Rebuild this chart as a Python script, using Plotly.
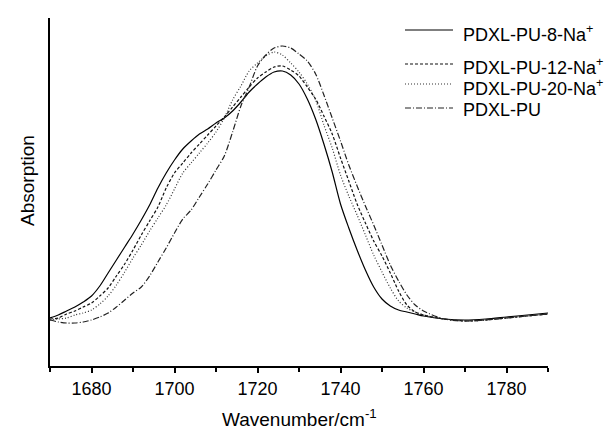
import plotly.graph_objects as go

# Wavenumber grid (cm^-1)
wavenumber = [1670, 1672, 1674, 1676, 1678, 1680, 1682, 1684, 1686, 1688,
              1690, 1692, 1694, 1696, 1698, 1700, 1702, 1704, 1706, 1708,
              1710, 1712, 1714, 1716, 1718, 1720, 1722, 1724, 1726, 1728,
              1730, 1732, 1734, 1736, 1738, 1740, 1742, 1744, 1746, 1748,
              1750, 1752, 1754, 1756, 1758, 1760, 1765, 1770, 1775, 1780,
              1785, 1790]

# Absorption (arbitrary units)
pu_8_na = [48, 51, 55, 59, 64, 70, 80, 93, 106, 119,
           132, 146, 161, 178, 193, 206, 217, 225, 232, 237,
           243, 248, 255, 264, 274, 282, 289, 294, 295, 291,
           282, 267, 247, 222, 194, 162, 138, 116, 96, 79,
           67, 60, 56, 54, 52, 50, 47, 46, 47, 49,
           51, 53]

pu_12_na = [47, 48, 52, 55, 59, 63, 70, 78, 90, 102,
            116, 131, 145, 159, 178, 193, 203, 213, 222, 231,
            240, 249, 259, 269, 279, 288, 294, 299, 300, 296,
            290, 279, 267, 250, 232, 208, 185, 162, 143, 125,
            110, 93, 75, 61, 54, 51, 47, 45, 46, 48,
            50, 52]

pu_20_na = [46, 47, 48, 51, 53, 56, 62, 70, 81, 94,
            108, 121, 135, 148, 161, 177, 193, 203, 213, 223,
            234, 248, 266, 280, 295, 303, 310, 314, 311, 303,
            294, 282, 266, 241, 218, 191, 170, 151, 131, 111,
            94, 78, 65, 58, 54, 51, 47, 45, 46, 48,
            50, 52]

pdxl_pu = [46, 44, 43, 43, 44, 46, 49, 53, 59, 66,
           73, 79, 90, 104, 118, 133, 147, 156, 169, 182,
           196, 210, 234, 260, 279, 300, 311, 318, 320, 318,
           312, 305, 292, 271, 248, 225, 201, 180, 160, 141,
           121, 101, 85, 71, 61, 55, 47, 45, 46, 48,
           50, 52]

series_names = ["PDXL-PU-8-Na<sup>+</sup>", "PDXL-PU-12-Na<sup>+</sup>",
                "PDXL-PU-20-Na<sup>+</sup>", "PDXL-PU"]
series_values = [pu_8_na, pu_12_na, pu_20_na, pdxl_pu]
series_dash = ["solid", "3px,2px", "1px,2px", "6px,2px,1px,2px"]
series_color = ["#000000", "#111111", "#333333", "#222222"]

x_ticks = [1680, 1700, 1720, 1740, 1760, 1780]

FONT = "Liberation Sans, Arial, Helvetica, sans-serif"

fig = go.Figure()
for name, vals, dash, col in zip(series_names, series_values, series_dash, series_color):
    fig.add_trace(go.Scatter(
        x=wavenumber, y=vals, mode="lines", name=name, showlegend=False,
        line=dict(color=col, width=1.2, dash=dash, shape="spline", smoothing=0.8),
    ))

W, H = 612, 430
L, R, T, B = 42, 72, 10, 72
pw, ph = W - L - R, H - T - B


def px2paper(px, py):
    return (px - L) / pw, (H - B - py) / ph


# Manual legend (uneven spacing as in the original)
legend_rows = [22, 56, 76, 100]
text_rows = [25, 58, 79, 102]
shapes = []
annotations = []
for name, dash, col, ly, ty in zip(series_names, series_dash, series_color, legend_rows, text_rows):
    x0, y0 = px2paper(397, ly)
    x1, _ = px2paper(445, ly)
    shapes.append(dict(type="line", xref="paper", yref="paper", x0=x0, x1=x1, y0=y0, y1=y0,
                       line=dict(color=col, width=1.2, dash=dash)))
    tx, tyy = px2paper(453, ty)
    annotations.append(dict(xref="paper", yref="paper", x=tx, y=tyy, xanchor="left", yanchor="middle",
                            text=name, showarrow=False, font=dict(size=18, color="black", family=FONT)))

# Axis titles
ax, ay = px2paper(20, 173)
annotations.append(dict(xref="paper", yref="paper", x=ax, y=ay, xanchor="center", yanchor="middle",
                        text="Absorption", textangle=-90, showarrow=False,
                        font=dict(size=19, color="black", family=FONT)))
bx, by = px2paper(291, 424)
annotations.append(dict(xref="paper", yref="paper", x=bx, y=by, xanchor="center", yanchor="bottom",
                        text="Wavenumber/cm<sup>-1</sup>", showarrow=False,
                        font=dict(size=19, color="black", family=FONT)))

fig.update_layout(
    width=W, height=H,
    margin=dict(l=L, r=R, t=T, b=B, pad=0),
    paper_bgcolor="white", plot_bgcolor="white",
    font=dict(family=FONT, color="black"),
    shapes=shapes, annotations=annotations,
    xaxis=dict(range=[1670, 1790], tickvals=x_ticks, ticks="outside", ticklen=5, tickwidth=1.5,
               tickcolor="black", showline=True, linecolor="black", linewidth=2,
               showgrid=False, zeroline=False, tickfont=dict(size=18, family=FONT),
               minor=dict(tickvals=[1670, 1690, 1710, 1730, 1750, 1770, 1790], ticks="outside",
                          ticklen=4, tickwidth=1.5, tickcolor="black", showgrid=False)),
    yaxis=dict(range=[0, 348], showline=True, linecolor="black", linewidth=2,
               showticklabels=False, ticks="", showgrid=False, zeroline=False),
)

fig.write_html("out.html")
